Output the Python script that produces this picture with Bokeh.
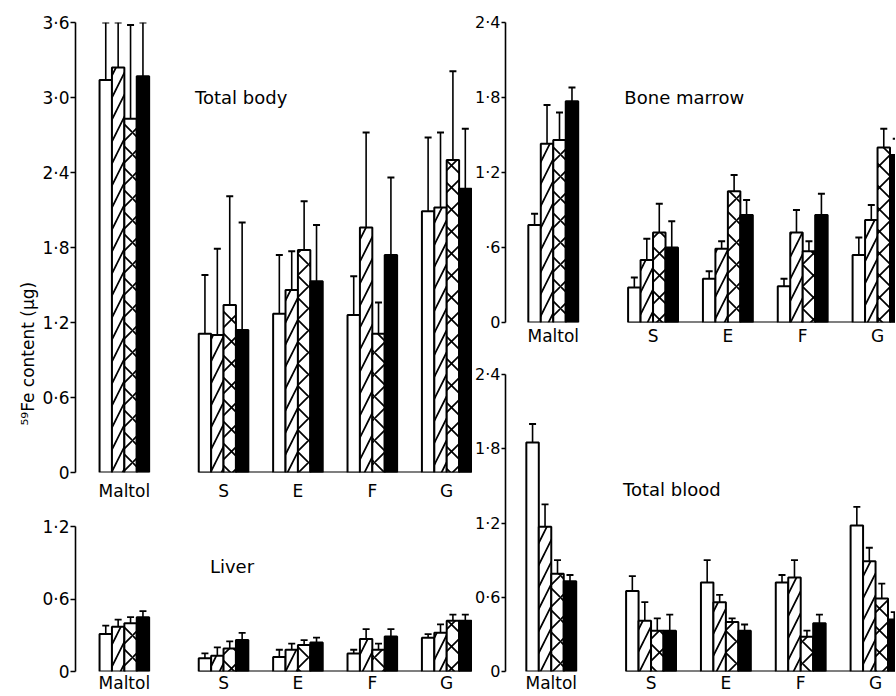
from bokeh.plotting import figure
from bokeh.layouts import row, column
from bokeh.models import Range1d, FixedTicker, ColumnDataSource, Whisker, TeeHead, Label, Title
from bokeh.embed import file_html
from bokeh.resources import INLINE

# ---------------- data ----------------
groups = ["Maltol", "S", "E", "F", "G"]

# Total body (mean, SE)
tb_open = [3.14, 1.11, 1.27, 1.26, 2.09]
tb_hatch = [3.24, 1.10, 1.46, 1.96, 2.12]
tb_cross = [2.83, 1.34, 1.78, 1.11, 2.50]
tb_solid = [3.17, 1.14, 1.53, 1.74, 2.27]
tb_open_se = [0.46, 0.47, 0.47, 0.31, 0.59]
tb_hatch_se = [0.36, 0.69, 0.31, 0.76, 0.60]
tb_cross_se = [0.75, 0.87, 0.39, 0.25, 0.71]
tb_solid_se = [0.43, 0.86, 0.45, 0.62, 0.48]

# Bone marrow
bm_open = [0.78, 0.28, 0.35, 0.29, 0.54]
bm_hatch = [1.43, 0.50, 0.59, 0.72, 0.82]
bm_cross = [1.46, 0.72, 1.05, 0.57, 1.40]
bm_solid = [1.77, 0.60, 0.86, 0.86, 1.34]
bm_open_se = [0.09, 0.08, 0.06, 0.06, 0.14]
bm_hatch_se = [0.31, 0.17, 0.06, 0.18, 0.12]
bm_cross_se = [0.22, 0.23, 0.13, 0.08, 0.15]
bm_solid_se = [0.11, 0.21, 0.12, 0.17, 0.13]

# Liver
lv_open = [0.31, 0.11, 0.12, 0.15, 0.28]
lv_hatch = [0.37, 0.13, 0.18, 0.27, 0.32]
lv_cross = [0.40, 0.19, 0.22, 0.18, 0.42]
lv_solid = [0.45, 0.26, 0.24, 0.29, 0.42]
lv_open_se = [0.07, 0.04, 0.06, 0.03, 0.03]
lv_hatch_se = [0.06, 0.07, 0.05, 0.08, 0.07]
lv_cross_se = [0.05, 0.06, 0.04, 0.05, 0.05]
lv_solid_se = [0.05, 0.06, 0.04, 0.06, 0.05]

# Total blood
bl_open = [1.85, 0.65, 0.72, 0.72, 1.18]
bl_hatch = [1.17, 0.41, 0.56, 0.76, 0.89]
bl_cross = [0.79, 0.33, 0.40, 0.28, 0.59]
bl_solid = [0.73, 0.33, 0.33, 0.39, 0.42]
bl_open_se = [0.15, 0.12, 0.18, 0.06, 0.15]
bl_hatch_se = [0.18, 0.15, 0.06, 0.14, 0.11]
bl_cross_se = [0.11, 0.10, 0.03, 0.05, 0.12]
bl_solid_se = [0.05, 0.13, 0.05, 0.07, 0.06]

tb_ticks = [0, 0.6, 1.2, 1.8, 2.4, 3.0, 3.6]
tb_tick_labels = ["0", "0·6", "1·2", "1·8", "2·4", "3·0", "3·6"]
bm_ticks = [0, 0.6, 1.2, 1.8, 2.4]
bm_tick_labels = ["0", "·6", "1·2", "1·8", "2·4"]
bl_ticks = [0, 0.6, 1.2, 1.8, 2.4]
bl_tick_labels = ["0", "0·6", "1·2", "1·8", "2·4"]
lv_ticks = [0, 0.6, 1.2]
lv_tick_labels = ["0", "0·6", "1·2"]

# ---------------- styling ----------------
FONT = "DejaVu Sans"
styles = [
    dict(fill_color="white", hatch_pattern=None),
    dict(fill_color="white", hatch_pattern="/"),
    dict(fill_color="white", hatch_pattern="x"),
    dict(fill_color="black", hatch_pattern=None),
]
# group centres in bar-width units: big gap after Maltol, then regular spacing
centers = [0.0] + [8.0 + 6.0 * k for k in range(len(groups) - 1)]
offsets = [-1.5, -0.5, 0.5, 1.5]


def make_panel(width, height, borders, xr, yr_end, ticks, tick_labels,
               tick_font, tick_out, means, ses, title, title_xy, x_standoff):
    top, bottom, left = borders
    p = figure(width=width, height=height, output_backend="svg",
               toolbar_location=None,
               x_range=Range1d(*xr), y_range=Range1d(0, yr_end),
               min_border_top=top, min_border_bottom=bottom,
               min_border_left=left, min_border_right=0)
    p.outline_line_color = None
    p.xgrid.visible = False
    p.ygrid.visible = False
    p.background_fill_color = "white"
    p.border_fill_color = "white"

    # baseline joining S..G groups
    p.segment(x0=[centers[1] - 2], y0=[0], x1=[centers[-1] + 2], y1=[0],
              line_color="black", line_width=2)

    for j, (m, s) in enumerate(zip(means, ses)):
        xs = [c + offsets[j] for c in centers]
        src = ColumnDataSource(dict(x=xs, top=m,
                                    upper=[a + b for a, b in zip(m, s)]))
        st = styles[j]
        kw = dict(x="x", top="top", bottom=0, width=1.0, source=src,
                  fill_color=st["fill_color"], line_color="black",
                  line_width=2)
        if st["hatch_pattern"]:
            kw.update(hatch_pattern=st["hatch_pattern"], hatch_color="black",
                      hatch_scale=22, hatch_weight=1.7)
        p.vbar(**kw)
        w = Whisker(source=src, base="x", upper="upper", lower="top",
                    upper_head=TeeHead(size=7, line_color="black",
                                       line_width=1.8),
                    lower_head=None, line_color="black", line_width=1.6)
        p.add_layout(w)

    ya = p.yaxis[0]
    ya.ticker = FixedTicker(ticks=ticks)
    ya.major_label_overrides = {t: l for t, l in zip(ticks, tick_labels)}
    ya.axis_line_width = 1.6
    ya.major_tick_line_width = 1.6
    ya.major_tick_out = tick_out
    ya.major_tick_in = 0
    ya.minor_tick_line_color = None
    ya.minor_tick_out = 0
    ya.major_label_standoff = 1
    ya.major_label_text_font = FONT
    ya.major_label_text_font_size = tick_font
    ya.major_label_text_color = "black"

    xa = p.xaxis[0]
    xa.ticker = FixedTicker(ticks=centers)
    xa.major_label_overrides = {c: g for c, g in zip(centers, groups)}
    xa.axis_line_color = None
    xa.major_tick_line_color = None
    xa.major_tick_out = 0
    xa.major_tick_in = 0
    xa.minor_tick_line_color = None
    xa.minor_tick_out = 0
    xa.major_label_standoff = x_standoff
    xa.major_label_text_font = FONT
    xa.major_label_text_font_size = "17px"
    xa.major_label_text_color = "black"

    p.add_layout(Label(x=title_xy[0], y=title_xy[1], text=title,
                       text_font=FONT, text_font_size="18px",
                       text_align="left", text_baseline="middle",
                       text_color="black"))
    return p


tb = make_panel(472, 503, (22, 31, 75), (-3.94, 28.08), 3.6,
                tb_ticks, tb_tick_labels, "17px", 5,
                [tb_open, tb_hatch, tb_cross, tb_solid],
                [tb_open_se, tb_hatch_se, tb_cross_se, tb_solid_se],
                "Total  body", (5.7, 3.0), 8)
tb.add_layout(Title(text="⁵⁹Fe content (μg)", align="left", offset=47,
                    text_font=FONT, text_font_size="17px",
                    text_font_style="normal", text_color="black",
                    standoff=4), "left")

lv = make_panel(472, 192, (23, 21, 75), (-3.94, 28.08), 1.2,
                lv_ticks, lv_tick_labels, "17px", 5,
                [lv_open, lv_hatch, lv_cross, lv_solid],
                [lv_open_se, lv_hatch_se, lv_cross_se, lv_solid_se],
                "Liver", (6.9, 0.87), 1)

bm = make_panel(423, 355, (22, 33, 30), (-3.83, 27.44), 2.4,
                bm_ticks, bm_tick_labels, "16px", 4,
                [bm_open, bm_hatch, bm_cross, bm_solid],
                [bm_open_se, bm_hatch_se, bm_cross_se, bm_solid_se],
                "Bone  marrow", (5.7, 1.8), 3)

bl = make_panel(423, 340, (19, 21, 30), (-3.67, 27.6), 2.4,
                bl_ticks, bl_tick_labels, "16px", 4,
                [bl_open, bl_hatch, bl_cross, bl_solid],
                [bl_open_se, bl_hatch_se, bl_cross_se, bl_solid_se],
                "Total  blood", (5.75, 1.47), 1)

layout = row(column(tb, lv), column(bm, bl))

open("out.html", "w").write(file_html(layout, INLINE))
